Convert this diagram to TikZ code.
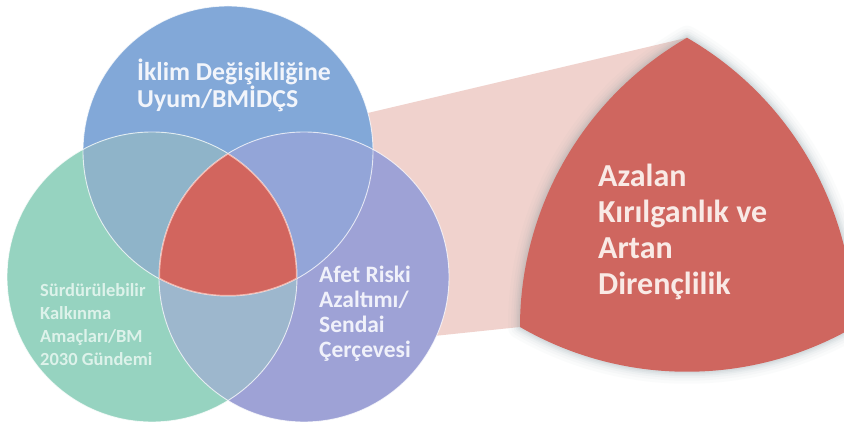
\documentclass[tikz,border=0pt]{standalone}
\usepackage{fontspec}
\setmainfont{Carlito}
\definecolor{cTop}{HTML}{82A8D8}
\definecolor{cLeft}{HTML}{96D3C0}
\definecolor{cRight}{HTML}{9EA2D6}
\definecolor{cTL}{HTML}{8FB4C9}
\definecolor{cTR}{HTML}{93A5D8}
\definecolor{cLR}{HTML}{9DB7CD}
\definecolor{cRed}{HTML}{D2655E}
\definecolor{cBig}{HTML}{CF665F}
\definecolor{cBand}{HTML}{F0D2CD}
\definecolor{cShadow}{HTML}{7F9499}
\definecolor{cRedLine}{HTML}{F2B7AE}
\definecolor{tTop}{HTML}{F2F5FB}
\definecolor{tLeft}{HTML}{DDF2EA}
\definecolor{tRight}{HTML}{F0F1FA}
\definecolor{tBig}{HTML}{F9EAE6}
\tikzset{
  ring/.style={draw=white, draw opacity=0.75, line width=0.9pt},
  lbl/.style={inner sep=0pt, anchor=west, align=left, font=\bfseries},
}
\begin{document}
\begin{tikzpicture}[x=1pt,y=1pt]
\useasboundingbox (0,0) rectangle (844,423);
\fill[white] (0,0) rectangle (844,423);
\coordinate (T) at (228,272);
\coordinate (L) at (152,146);
\coordinate (R) at (304,146);
\coordinate (A) at (687,385.25);
\coordinate (B) at (520,96);
\coordinate (C) at (854,96);
% band
\fill[cBand] (300,294) -- (A) -- (B) -- (300,73) -- cycle;
% circles
\fill[cTop] (T) circle[radius=145];
\fill[cLeft] (L) circle[radius=145];
\fill[cRight] (R) circle[radius=145];
\begin{scope}\clip (T) circle[radius=145]; \fill[cTL] (L) circle[radius=145];\end{scope}
\begin{scope}\clip (T) circle[radius=145]; \fill[cTR] (R) circle[radius=145];\end{scope}
\begin{scope}\clip (L) circle[radius=145]; \fill[cLR] (R) circle[radius=145];\end{scope}
\begin{scope}\clip (T) circle[radius=145]; \clip (L) circle[radius=145]; \fill[cRed] (R) circle[radius=145];\end{scope}
\draw[ring] (T) circle[radius=145];
\draw[ring] (L) circle[radius=145];
\draw[ring] (R) circle[radius=145];
\begin{scope}
\clip (T) circle[radius=145]; \clip (L) circle[radius=145]; \clip (R) circle[radius=145];
\draw[cRedLine, line width=2pt] (T) circle[radius=145] (L) circle[radius=145] (R) circle[radius=145];
\end{scope}
% texts in circles
\node[lbl, text=tTop, font=\bfseries\fontsize{25.8}{27}\selectfont] (ttop) at (137,338) {İklim Değişikliğine\\Uyum/BMİDÇS};
\node[lbl, text=tLeft, font=\bfseries\fontsize{18.5}{23}\selectfont] (tleft) at (40,98) {Sürdürülebilir\\Kalkınma\\Amaçları/BM\\2030 Gündemi};
\node[lbl, text=tRight, font=\bfseries\fontsize{23.5}{25}\selectfont] (tright) at (319,109) {Afet Riski\\Azaltımı/\\Sendai\\Çerçevesi};
% big shape shadow
\foreach \w/\o in {24/0.03,18/0.04,13/0.05,9/0.065,6/0.075,3/0.09}{
  \draw[line width=\w pt, draw=cShadow, draw opacity=\o, line join=round]
    (A) arc[start angle=120,end angle=180,radius=334]
        arc[start angle=240,end angle=300,radius=334]
        arc[start angle=0,end angle=60,radius=334] -- cycle;
}
\fill[cBig] (A) arc[start angle=120,end angle=180,radius=334]
        arc[start angle=240,end angle=300,radius=334]
        arc[start angle=0,end angle=60,radius=334] -- cycle;
\node[lbl, text=tBig, font=\bfseries\fontsize{32}{36}\selectfont] (tbig) at (598,191) {Azalan\\Kırılganlık ve\\Artan\\Dirençlilik};
\end{tikzpicture}
\end{document}
